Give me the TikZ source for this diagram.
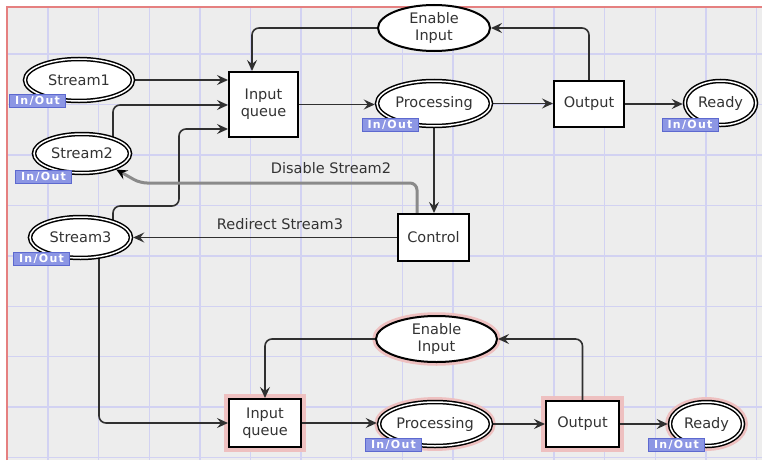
\documentclass[tikz,border=0pt]{standalone}
\usepackage{fontspec}
\setmainfont{DejaVu Sans}
\usetikzlibrary{arrows.meta,shapes.geometric,calc}
\pgfdeclarelayer{gridlayer}
\pgfdeclarelayer{edges}
\pgfsetlayers{gridlayer,edges,main}
\definecolor{bgc}{HTML}{EDEDED}
\definecolor{gridc}{HTML}{D2D2F2}
\definecolor{borderc}{HTML}{E58080}
\definecolor{txt}{HTML}{333333}
\definecolor{tagfill}{HTML}{8C96E4}
\definecolor{tagdraw}{HTML}{5D69CF}
\definecolor{glowc}{HTML}{EEC0C0}
\definecolor{arcc}{HTML}{303030}
\definecolor{disc}{HTML}{8A8A8A}
\tikzset{
 base/.style={font=\fontsize{14.5}{17}\selectfont, text=txt, inner sep=0pt, align=center},
 trans/.style={base, rectangle, draw=black, line width=2pt, fill=white},
 place/.style={base, ellipse, draw=black, line width=2pt, fill=white},
 port/.style={base, ellipse, draw=black, line width=1.5pt, double=white, double distance=1.5pt, fill=white, outer sep=2.25pt},
 tag/.style={rectangle, fill=tagfill, draw=tagdraw, line width=0.8pt, text=white,
   font=\fontsize{11}{12}\selectfont\bfseries\addfontfeature{LetterSpace=12},
   minimum width=56pt, minimum height=13pt, inner sep=0pt},
 arc/.style={draw=arcc, line width=1.6pt, -{Stealth[length=11pt,width=10pt,inset=4pt]}, rounded corners=7pt},
 disarc/.style={draw=disc, line width=3pt, -{Stealth[length=11pt,width=10pt,inset=4pt,color=black]}, rounded corners=7pt},
 glow/.style={draw=glowc, line width=7.5pt},
 lbl/.style={base},
 gridl/.style={draw=gridc, line width=1.4pt},
}
\begin{document}
\begin{tikzpicture}[x=1pt,y=-1pt]
\useasboundingbox (0,0) rectangle (762,460);
\begin{pgfonlayer}{gridlayer}
\fill[white] (0,0) rectangle (762,460);
\fill[bgc] (7,7) rectangle (762,460);
\foreach \i in {0,...,14} \draw[gridl] ({48+50.6*\i},7) -- ({48+50.6*\i},460);
\foreach \j in {0,...,8} \draw[gridl] (7,{54+50.45*\j}) -- (762,{54+50.45*\j});
\draw[borderc, line width=1.5pt] (7,460) -- (7,7) -- (762,7);
\end{pgfonlayer}

% top network
\node[port, minimum width=108pt, minimum height=42pt] (s1) at (79,80) {Stream1};
\node[port, minimum width=96pt, minimum height=39pt] (s2) at (82,153.5) {Stream2};
\node[port, minimum width=101pt, minimum height=41pt] (s3) at (80.5,237.5) {Stream3};
\node[trans, minimum width=69pt, minimum height=65pt] (iq) at (263.5,104.5) {Input\\queue};
\node[place, minimum width=112pt, minimum height=46pt] (ei) at (434,28) {Enable\\Input};
\node[port, minimum width=114pt, minimum height=45pt] (pr) at (434,103.5) {Processing};
\node[trans, minimum width=70pt, minimum height=46pt] (out) at (589,104) {Output};
\node[port, minimum width=71pt, minimum height=44pt] (rd) at (720.5,103) {Ready};
\node[trans, minimum width=71pt, minimum height=47pt] (ctl) at (433.5,237.5) {Control};

% bottom network
\node[place, minimum width=121pt, minimum height=46pt] (ei2) at (436.5,339) {Enable\\Input};
\node[trans, minimum width=72pt, minimum height=48pt] (iq2) at (265,423) {Input\\queue};
\node[port, minimum width=112pt, minimum height=44pt] (pr2) at (435,424) {Processing};
\node[trans, minimum width=73pt, minimum height=46pt] (out2) at (582.5,424) {Output};
\node[port, minimum width=73pt, minimum height=44pt] (rd2) at (706.5,424) {Ready};

% port tags
\node[tag] (t1) at (37.5,101) {In/Out};
\node[tag] (t2) at (43.5,176.5) {In/Out};
\node[tag] (t3) at (41.5,258.5) {In/Out};
\node[tag] (t4) at (390,124.5) {In/Out};
\node[tag] (t5) at (690,124.5) {In/Out};
\node[tag] (t6) at (393.5,444.5) {In/Out};
\node[tag] (t7) at (676.5,444.5) {In/Out};

% arc labels
\node[lbl] (l10) at (331,168) {Disable Stream2};
\node[lbl] (l11) at (280,224) {Redirect Stream3};

\begin{pgfonlayer}{edges}
% glow of the bottom network
\draw[glow] (ei2.center) ellipse [x radius=60.5pt, y radius=23pt];
\draw[glow] (pr2.center) ellipse [x radius=57pt, y radius=23.2pt];
\draw[glow] (rd2.center) ellipse [x radius=37.7pt, y radius=23.2pt];
\draw[glow] (iq2.south west) rectangle (iq2.north east);
\draw[glow] (out2.south west) rectangle (out2.north east);

\coordinate (k2) at (113,105);
\coordinate (k3a) at (113,206);
\coordinate (k3b) at (179,129);
\coordinate (k8) at (252,0);
\coordinate (k10a) at (417,183);
\coordinate (k10b) at (140,183);
\coordinate (k12) at (99,423);

\draw[arc] (s1.center) -- (s1.center -| iq.west);
\draw[arc] (k2 |- s2.center) -- (k2) -- (k2 -| iq.west);
\draw[arc] (k3a |- s3.center) -- (k3a) -| (k3b) -- (k3b -| iq.west);
\draw[arc] (iq.center) -- (iq.center -| pr.west);
\draw[arc] (pr.center) -- (pr.center -| out.west);
\draw[arc] (out.center) -- (out.center -| rd.west);
\draw[arc] (out.center) |- (ei.east);
\draw[arc] (ei.center) -| (k8 |- iq.north);
\draw[arc] (pr.center) -- (pr.center |- ctl.north);
\draw[disarc] (k10a |- ctl.center) -- (k10a) -- (k10b) -- (s2.-25);
\draw[arc] (ctl.center) -- (ctl.center -| s3.east);
\draw[arc] (k12 |- s3.center) -- (k12) -- (k12 -| iq2.west);

\draw[arc] (iq2.center) -- (iq2.center -| pr2.west);
\draw[arc] (pr2.center) -- (pr2.center -| out2.west);
\draw[arc] (out2.center) -- (out2.center -| rd2.west);
\draw[arc] (out2.center) |- (ei2.east);
\draw[arc] (ei2.center) -| (iq2.north);
\end{pgfonlayer}
\end{tikzpicture}
\end{document}
